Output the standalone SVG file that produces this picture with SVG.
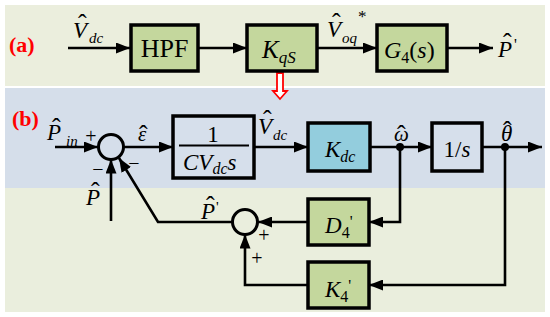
<svg xmlns="http://www.w3.org/2000/svg" width="550" height="317" viewBox="0 0 550 317">
<defs>
<style>
text{font-family:"Liberation Serif","Times New Roman",serif;fill:#000}
.it{font-style:italic}
.lab{font-weight:bold;fill:#FF0000;font-size:22px}
.box{stroke:#000;stroke-width:3.5}
.g{fill:#C4D79D}
.bl{fill:#D6DFEB}
.cy{fill:#93CDDD}
.ln{fill:none;stroke:#000;stroke-width:2.6}
.arr{marker-end:url(#ah)}
.sum{fill:none;stroke:#000;stroke-width:3}
.lb{font-size:23px;font-style:italic}
.hat{font-size:26px;font-style:normal}
.sub{font-size:15px;font-style:italic}
.big{font-size:23px}
.sg{font-size:20px}
</style>
<marker id="ah" markerUnits="userSpaceOnUse" markerWidth="14" markerHeight="11" refX="14" refY="5.5" orient="auto">
<path d="M0,0 L14,5.5 L0,11 z" fill="#000"/>
</marker>
</defs>
<rect width="550" height="317" fill="#FFFFFF"/>
<rect x="5" y="5" width="540" height="81" fill="#EBEEDD"/>
<rect x="5" y="88" width="540" height="100" fill="#D5DEEA"/>
<rect x="5" y="188" width="540" height="124" fill="#EAEEDD"/>

<text class="lab" x="9" y="52">(a)</text>
<text class="lab" x="12" y="126">(b)</text>

<g id="connectors">
<path class="ln arr" d="M68,48 H130"/>
<path class="ln arr" d="M198,48 H247"/>
<path class="ln arr" d="M317,48 H377"/>
<path class="ln arr" d="M447,48 H493"/>
<path class="ln arr" d="M55,147 H98"/>
<path class="ln arr" d="M123.5,147 H173"/>
<path class="ln arr" d="M254,147 H308"/>
<path class="ln arr" d="M370,147 H432"/>
<path class="ln arr" d="M482,147 H542"/>
<path class="ln arr" d="M400,147 V222 H369"/>
<path class="ln arr" d="M308,222 H258"/>
<path class="ln arr" d="M232.5,222 H158 L119,158"/>
<path class="ln arr" d="M111,221 V159.5"/>
<path class="ln arr" d="M505,147 V285 H369"/>
<path class="ln arr" d="M308,285 H245 V234.5"/>
<circle cx="400" cy="147" r="4" fill="#000"/>
<circle cx="505" cy="147" r="4" fill="#000"/>
<polygon points="277,73 283,73 283,91 287,91 280,99 273,91 277,91" fill="#FFFFFF" stroke="#FF0000" stroke-width="1.8"/>
</g>

<g id="in-vdc">
<text class="lb" x="73" y="38">V<tspan class="hat" x="78" y="32">ˆ</tspan><tspan class="sub" x="89" y="43">dc</tspan></text>
</g>
<g id="hpf">
<rect class="box g" x="131" y="25" width="67" height="46"/>
<text x="164.5" y="57" font-size="26" text-anchor="middle">HPF</text>
</g>
<g id="kqs">
<rect class="box g" x="247" y="25" width="70" height="46"/>
<text x="262" y="58" class="it" font-size="25">K<tspan font-size="17" dy="5">qS</tspan></text>
</g>
<g id="voq">
<text class="lb" x="327" y="37">V<tspan class="hat" x="332" y="31">ˆ</tspan><tspan class="sub" x="342" y="43">oq</tspan><tspan font-size="17" font-style="normal" x="358" y="22">*</tspan></text>
</g>
<g id="g4">
<rect class="box g" x="377" y="25" width="70" height="46"/>
<text x="384" y="58" font-size="24"><tspan class="it">G</tspan><tspan font-size="16" dy="5">4</tspan><tspan dy="-5">(</tspan><tspan class="it">s</tspan>)</text>
</g>
<g id="out-p">
<text class="lb" x="498" y="57">P<tspan class="hat" x="503" y="51">ˆ</tspan><tspan font-size="16" font-style="normal" x="514" y="50">'</tspan></text>
</g>

<g id="pin">
<text class="lb" x="47" y="140">P<tspan class="hat" x="52" y="136">ˆ</tspan><tspan class="sub" x="66" y="146">in</tspan></text>
<text class="sg" x="91" y="143" text-anchor="middle">+</text>
</g>
<g id="sum1">
<circle class="sum" cx="111" cy="147" r="12.5"/>
<text class="sg" x="98" y="176" text-anchor="middle">−</text>
<text class="sg" x="134" y="170" text-anchor="middle">−</text>
</g>
<g id="phat">
<text class="lb" x="86" y="205">P<tspan class="hat" x="91" y="200">ˆ</tspan></text>
</g>
<g id="eps">
<text class="it" font-size="21" x="138" y="141">ε<tspan class="hat" x="139" y="143">ˆ</tspan></text>
</g>
<g id="plant">
<rect class="box bl" x="173" y="116" width="81" height="62"/>
<text x="213" y="142" class="big" text-anchor="middle">1</text>
<path d="M179,145.5 H249" stroke="#000" stroke-width="2"/>
<text x="183" y="170" class="it big">CV<tspan font-size="16" dy="4">dc</tspan><tspan dy="-4">s</tspan></text>
</g>
<g id="vdc-b">
<text class="lb" x="258" y="134">V<tspan class="hat" x="263" y="128">ˆ</tspan><tspan class="sub" x="273" y="140">dc</tspan></text>
</g>
<g id="kdc">
<rect class="box cy" x="308" y="123" width="62" height="48"/>
<text x="325" y="157" class="it big">K<tspan font-size="16" dy="5">dc</tspan></text>
</g>
<g id="omega">
<text class="it" font-size="21" x="394" y="141">ω<tspan class="hat" x="397" y="143">ˆ</tspan></text>
</g>
<g id="integ">
<rect class="box bl" x="432" y="123" width="50" height="48"/>
<text x="457" y="157" class="big" text-anchor="middle">1/<tspan class="it">s</tspan></text>
</g>
<g id="theta">
<text class="lb" x="501" y="141">θ<tspan class="hat" x="503" y="139">ˆ</tspan></text>
</g>
<g id="d4">
<rect class="box g" x="308" y="199" width="61" height="46"/>
<text x="325" y="233" class="it big">D<tspan font-size="16" font-style="normal" dy="5">4</tspan><tspan font-size="16" font-style="normal" dy="-11">'</tspan></text>
</g>
<g id="sum2">
<circle class="sum" cx="245" cy="222" r="12.5"/>
<text class="sg" x="264" y="242" text-anchor="middle">+</text>
<text class="sg" x="257" y="265" text-anchor="middle">+</text>
</g>
<g id="pprime">
<text class="lb" x="201" y="219">P<tspan class="hat" x="206" y="214">ˆ</tspan><tspan font-size="15" font-style="normal" x="216" y="212">'</tspan></text>
</g>
<g id="k4">
<rect class="box g" x="308" y="262" width="61" height="46"/>
<text x="325" y="297" class="it big">K<tspan font-size="16" font-style="normal" dy="5">4</tspan><tspan font-size="16" font-style="normal" dy="-11">'</tspan></text>
</g>
</svg>
